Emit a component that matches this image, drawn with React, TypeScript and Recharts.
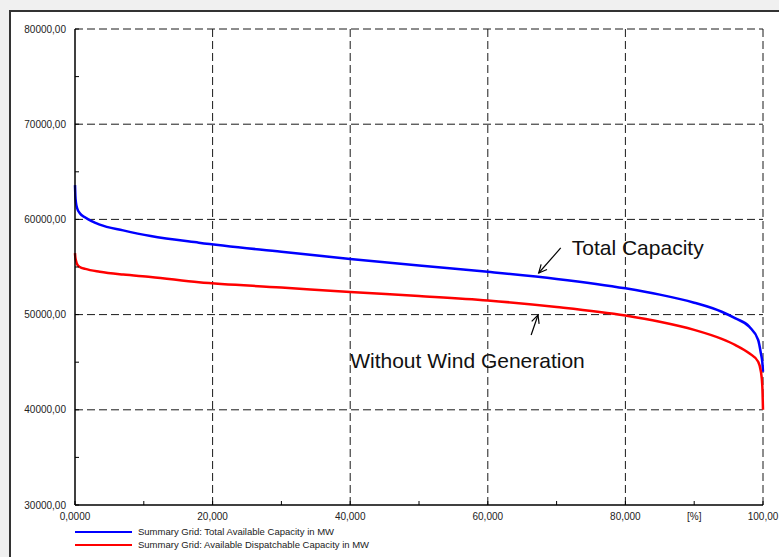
import React from 'react';
import { LineChart, Line, XAxis, YAxis, ReferenceLine, ReferenceDot } from 'recharts';

// duration curve, x = share of time in %
const xValues = [0, 0.05, 0.15, 0.3, 0.7, 1.5, 3.6, 7, 11, 18, 30, 40, 50, 60, 70, 80, 85, 90, 94, 96, 98, 99.3, 99.7, 99.9, 100];
const totalCapacity = [63600, 62500, 61700, 61200, 60650, 60200, 59450, 58850, 58250, 57550, 56600, 55850, 55150, 54500, 53750, 52760, 52100, 51250, 50300, 49600, 48730, 47330, 45900, 45000, 44000];
const dispatchableCapacity = [56450, 56000, 55650, 55300, 55000, 54800, 54500, 54200, 53950, 53400, 52850, 52370, 51950, 51480, 50800, 49900, 49250, 48400, 47450, 46800, 45930, 45050, 44000, 42500, 40000];

const xTicks = [0, 10, 20, 30, 40, 50, 60, 70, 80, 90, 100];
const xTickLabels = ['0,0000', '', '20,000', '', '40,000', '', '60,000', '', '80,000', '[%]', '100,00'];
const yTicks = [30000, 35000, 40000, 45000, 50000, 55000, 60000, 65000, 70000, 75000, 80000];
const yTickLabels = ['30000,00', '', '40000,00', '', '50000,00', '', '60000,00', '', '70000,00', '', '80000,00'];
const xGrid = [20, 40, 60, 80, 100];
const yGrid = [40000, 50000, 60000, 70000, 80000];

const series = [
  { key: 'total', name: 'Summary Grid: Total Available Capacity in MW', color: '#0000ff' },
  { key: 'dispatch', name: 'Summary Grid: Available Dispatchable Capacity in MW', color: '#ff0000' },
];

const data = xValues.map((x, i) => ({ x, total: totalCapacity[i], dispatch: dispatchableCapacity[i] }));

const FONT = '"Liberation Sans", Arial, Helvetica, sans-serif';

const XTick = (props: any) => {
  const { x, y, payload } = props;
  const label = xTickLabels[xTicks.indexOf(payload.value)];
  return (
    <g>
      <line x1={x} y1={y} x2={x} y2={y - 4} stroke="#000" strokeWidth={1} />
      {label ? (
        <text x={x} y={y + 15} textAnchor="middle" fontSize={10} fill="#222" fontFamily={FONT}>
          {label}
        </text>
      ) : null}
    </g>
  );
};

const YTick = (props: any) => {
  const { x, y, payload } = props;
  const label = yTickLabels[yTicks.indexOf(payload.value)];
  return (
    <g>
      <line x1={x} y1={y} x2={x + 4} y2={y} stroke="#000" strokeWidth={1} />
      {label ? (
        <text x={x - 9} y={y + 3.5} textAnchor="end" fontSize={10} fill="#222" fontFamily={FONT}>
          {label}
        </text>
      ) : null}
    </g>
  );
};

const Arrow = (props: any) => {
  const { x1, y1, x2, y2 } = props;
  const a = Math.atan2(y2 - y1, x2 - x1);
  const len = 9;
  const spread = 0.45;
  const p1 = [x2 - len * Math.cos(a - spread), y2 - len * Math.sin(a - spread)];
  const p2 = [x2 - len * Math.cos(a + spread), y2 - len * Math.sin(a + spread)];
  return (
    <g>
      <line x1={x1} y1={y1} x2={x2} y2={y2} stroke="#000" strokeWidth={1.2} />
      <polyline points={`${p1[0]},${p1[1]} ${x2},${y2} ${p2[0]},${p2[1]}`} fill="none" stroke="#000" strokeWidth={1.2} />
    </g>
  );
};

const Note = (text: string) => (props: any) => (
  <text x={props.cx} y={props.cy} fontSize={21} fill="#111" fontFamily={FONT}>
    {text}
  </text>
);

export default function App() {
  return (
    <div style={{ position: 'fixed', left: 0, top: 0, width: 779, height: 557, background: '#f0f0f0', overflow: 'hidden', fontFamily: FONT }}>
      <div style={{ position: 'absolute', left: 9, top: 10, width: 800, height: 600, background: '#fff', borderLeft: '2px solid #333', borderTop: '2px solid #333' }} />
      <div style={{ position: 'absolute', left: 0, top: 0 }}>
        <LineChart width={779} height={557} data={data} margin={{ top: 29, right: 16, bottom: 51, left: 74 }}>
          <XAxis
            dataKey="x"
            type="number"
            domain={[0, 100]}
            ticks={xTicks}
            height={1}
            tickSize={0}
            tickMargin={0}
            tickLine={false}
            tick={<XTick />}
            axisLine={{ stroke: '#000', strokeWidth: 1.5 }}
            interval={0}
          />
          <YAxis
            type="number"
            domain={[30000, 80000]}
            ticks={yTicks}
            width={1}
            tickSize={0}
            tickMargin={0}
            tickLine={false}
            tick={<YTick />}
            axisLine={{ stroke: '#000', strokeWidth: 1.5 }}
            interval={0}
          />
          {yGrid.map((v) => (
            <ReferenceLine key={'h' + v} y={v} stroke="#1a1a1a" strokeDasharray="8 4" strokeWidth={1} />
          ))}
          {xGrid.map((v) => (
            <ReferenceLine key={'v' + v} x={v} stroke="#1a1a1a" strokeDasharray="8 4" strokeWidth={1} />
          ))}
          {series.map((s) => (
            <Line
              key={s.key}
              dataKey={s.key}
              type="monotone"
              stroke={s.color}
              strokeWidth={2.5}
              dot={false}
              isAnimationActive={false}
            />
          ))}
          <ReferenceLine segment={[{ x: 70.6, y: 57000 }, { x: 67.4, y: 54370 }]} shape={Arrow} />
          <ReferenceLine segment={[{ x: 66.3, y: 47850 }, { x: 67.3, y: 49960 }]} shape={Arrow} />
          <ReferenceDot x={72.2} y={56260} r={0} shape={Note('Total Capacity')} />
          <ReferenceDot x={40.0} y={44390} r={0} shape={Note('Without Wind Generation')} />
        </LineChart>
      </div>
      <div style={{ position: 'absolute', left: 75, top: 525, fontSize: 9.5, color: '#222' }}>
        {series.map((s) => (
          <div key={s.key} style={{ display: 'flex', alignItems: 'center', height: 13 }}>
            <div style={{ width: 57, height: 2, background: s.color, marginRight: 6 }} />
            <span>{s.name}</span>
          </div>
        ))}
      </div>
    </div>
  );
}
